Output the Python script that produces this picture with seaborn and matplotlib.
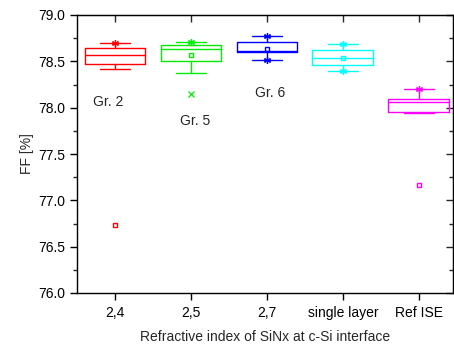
import matplotlib
matplotlib.use("Agg")
import matplotlib.pyplot as plt
import seaborn as sns
import numpy as np
from matplotlib.ticker import MultipleLocator

# Box chart statistics (FF in %)
groups = ["2,4", "2,5", "2,7", "single layer", "Ref ISE"]
colors = ["#ff0000", "#00ee00", "#0000ff", "#00ffff", "#ff00ff"]
q1 = [78.47, 78.50, 78.60, 78.46, 77.95]
median = [78.565, 78.63, 78.61, 78.54, 78.06]
q3 = [78.64, 78.68, 78.705, 78.62, 78.09]
whis_lo = [78.42, 78.37, 78.51, 78.40, 77.94]
whis_hi = [78.70, 78.71, 78.77, 78.69, 78.20]
means = [76.73, 78.57, 78.63, 78.54, 77.17]
max_vals = [78.70, 78.71, 78.77, 78.69, 78.20]
min_vals = [np.nan, 78.15, 78.51, 78.40, np.nan]
min_markers = ["x", "x", "asterisk", "asterisk", "x"]

group_names = ["Gr. 2", "Gr. 5", "Gr. 6"]
group_pos = [(-0.09, 78.06), (1.05, 77.86), (2.04, 78.16)]

sns.set_style("ticks")
plt.rcParams["font.family"] = ["Liberation Sans", "DejaVu Sans"]

fig = plt.figure(figsize=(4.54, 3.47), dpi=100)
ax = fig.add_axes([77 / 454, 54 / 347, 376 / 454, 278 / 347])

stats = []
for i, g in enumerate(groups):
    stats.append(dict(label=g, med=median[i], q1=q1[i], q3=q3[i],
                      whislo=whis_lo[i], whishi=whis_hi[i], mean=means[i],
                      fliers=[]))

art = ax.bxp(stats, positions=range(len(groups)), widths=0.8,
             showmeans=True, meanline=False, showfliers=False,
             patch_artist=False, manage_ticks=False)

for i, c in enumerate(colors):
    art["boxes"][i].set(color=c, linewidth=1)
    art["medians"][i].set(color=c, linewidth=1)
    art["whiskers"][2 * i].set(color=c, linewidth=1)
    art["whiskers"][2 * i + 1].set(color=c, linewidth=1)
    art["caps"][2 * i].set(color=c, linewidth=1)
    art["caps"][2 * i + 1].set(color=c, linewidth=1)
    art["means"][i].set(marker="s", markersize=3.5, markerfacecolor="none",
                        markeredgecolor=c, markeredgewidth=1)

# max / min markers
asterisk = (6, 2, 0)
for i, c in enumerate(colors):
    ax.plot(i, max_vals[i], marker=asterisk, color=c, markersize=5, mew=0.9)
    if not np.isnan(min_vals[i]):
        m = asterisk if min_markers[i] == "asterisk" else "x"
        ax.plot(i, min_vals[i], marker=m, color=c,
                markersize=5 if m == asterisk else 4, mew=0.9)

for name, (x, y) in zip(group_names, group_pos):
    ax.text(x, y, name, ha="center", va="center", fontsize=10)

ax.set_xlim(-0.5, 4.45)
ax.set_ylim(76.0, 79.0)
ax.set_xticks(range(len(groups)))
ax.set_xticklabels(groups)
ax.yaxis.set_major_locator(MultipleLocator(0.5))
ax.yaxis.set_minor_locator(MultipleLocator(0.25))
ax.yaxis.set_major_formatter(matplotlib.ticker.FormatStrFormatter("%.1f"))
ax.tick_params(axis="both", which="major", direction="out", length=5,
               width=1, labelsize=10, colors="black")
ax.tick_params(axis="x", which="major", pad=4.5)
ax.tick_params(axis="y", which="minor", direction="out", length=3, width=1)

for s in ax.spines.values():
    s.set_visible(True)
    s.set_linewidth(1)
    s.set_color("black")

top = ax.secondary_xaxis("top")
top.set_xticks(range(len(groups)))
top.tick_params(direction="in", length=5, width=1, labeltop=False)
right = ax.secondary_yaxis("right")
right.yaxis.set_major_locator(MultipleLocator(0.5))
right.yaxis.set_minor_locator(MultipleLocator(0.25))
right.tick_params(which="major", direction="in", length=5, width=1, labelright=False)
right.tick_params(which="minor", direction="in", length=3, width=1)

ax.set_xlabel("Refractive index of SiNx at c-Si interface", fontsize=10, labelpad=7)
ax.set_ylabel("FF [%]", fontsize=10, labelpad=3)

fig.savefig("out.png", dpi=100)
